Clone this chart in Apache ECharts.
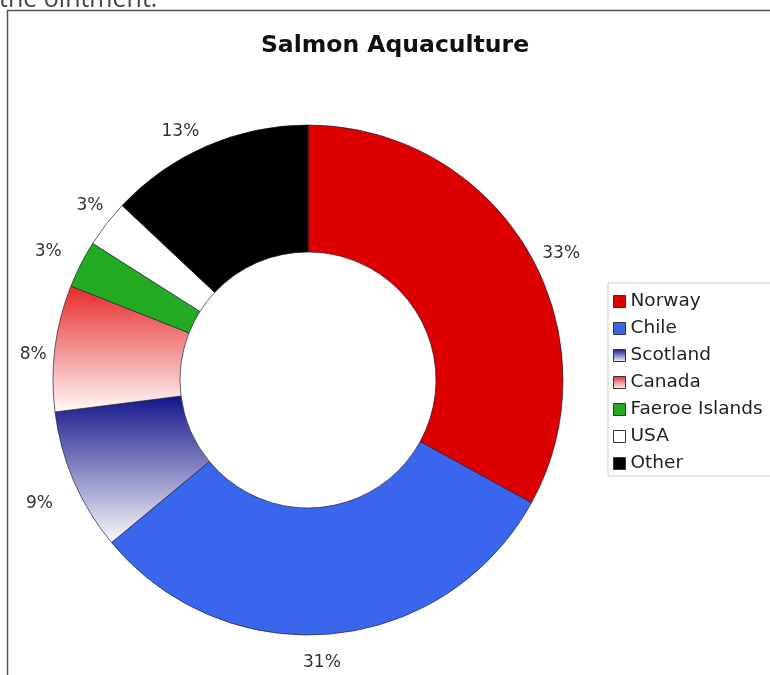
<!DOCTYPE html>
<html>
<head>
<meta charset="utf-8">
<script src="https://cdn.jsdelivr.net/npm/echarts@6/dist/echarts.min.js"></script>
<style>
html,body{margin:0;padding:0;background:#fff;}
#chart{width:770px;height:675px;}
</style>
</head>
<body>
<div id="chart"></div>
<script>
var categories = ['Norway', 'Chile', 'Scotland', 'Canada', 'Faeroe Islands', 'USA', 'Other'];
var values = [33, 31, 9, 8, 3, 3, 13];
var titleText = 'Salmon Aquaculture';
var pageText = 'the ointment.';

// label nudges (style only)
var labelNudges = [[7, 19], [-13, -2], [-6, 10], [9, 10], [-5, 1], [8, 1], [-14, 14]];

var grad = function (top, bottom) {
  return new echarts.graphic.LinearGradient(0, 0, 0, 1, [
    { offset: 0, color: top }, { offset: 1, color: bottom }
  ]);
};
var colors = [
  '#dd0000',
  '#3a66ee',
  grad('#14148a', '#fafafd'),
  grad('#e82a2a', '#fffafa'),
  '#22aa22',
  '#ffffff',
  '#000000'
];

var mainData = categories.map(function (c, i) {
  return { name: c, value: values[i], itemStyle: { color: colors[i] } };
});
var labelData = categories.map(function (c, i) {
  return { name: c, value: values[i], label: { offset: labelNudges[i] } };
});

var chart = echarts.init(document.getElementById('chart'), null, { renderer: 'canvas' });
chart.setOption({
  backgroundColor: '#ffffff',
  animation: false,
  title: {
    text: titleText,
    left: 390,
    textAlign: 'center',
    top: 29,
    textStyle: { fontFamily: 'DejaVu Sans', fontWeight: 'bold', fontSize: 23.5, color: '#111' }
  },
  graphic: [
    {
      type: 'rect', silent: true,
      shape: { x: 7.5, y: 10.5, width: 800, height: 700 },
      style: { fill: 'none', stroke: '#555', lineWidth: 1.5 }
    },
    {
      type: 'text', x: -1, y: 0, silent: true,
      style: { text: pageText, font: '25px "Open Sans"', fill: '#444', verticalAlign: 'middle' }
    }
  ],
  legend: {
    orient: 'vertical',
    left: 608,
    top: 283,
    padding: [9, 20, 3, 5],
    itemWidth: 12,
    itemHeight: 12,
    itemGap: 8,
    backgroundColor: '#fff',
    borderColor: '#ccc',
    borderWidth: 1,
    borderRadius: 0,
    icon: 'rect',
    data: categories,
    itemStyle: { borderColor: '#333', borderWidth: 1 },
    textStyle: { fontFamily: 'DejaVu Sans', fontSize: 18.5, color: '#222', lineHeight: 19 }
  },
  series: [
    {
      type: 'pie',
      name: 'main',
      center: [308, 380],
      radius: [128, 255],
      startAngle: 90,
      clockwise: true,
      avoidLabelOverlap: false,
      label: { show: false },
      labelLine: { show: false },
      itemStyle: { borderColor: 'rgba(30,30,50,0.85)', borderWidth: 0.8 },
      emphasis: { disabled: true },
      data: mainData
    },
    {
      type: 'pie',
      name: 'labels',
      silent: true,
      center: [308, 380],
      radius: [0, 566],
      startAngle: 90,
      clockwise: true,
      z: 0,
      legendHoverLink: false,
      itemStyle: { color: 'rgba(0,0,0,0)', borderWidth: 0 },
      label: {
        show: true,
        position: 'inside',
        formatter: function (p) { return p.value + '%'; },
        fontFamily: 'DejaVu Sans',
        fontSize: 17,
        color: '#333'
      },
      labelLine: { show: false },
      emphasis: { disabled: true },
      data: labelData
    }
  ]
});
</script>
</body>
</html>
